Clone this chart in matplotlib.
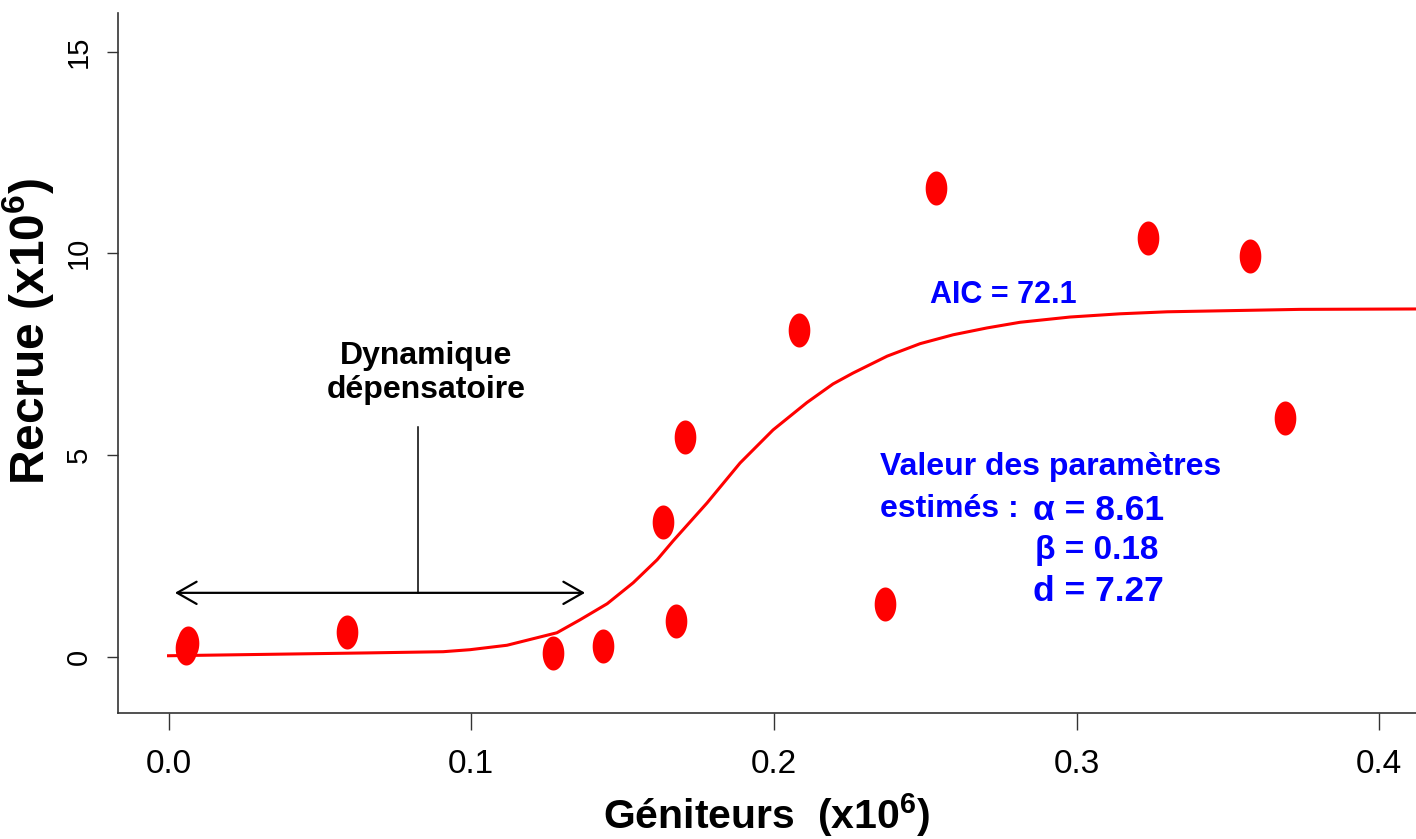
import numpy as np
import matplotlib
matplotlib.use('Agg')
import matplotlib.pyplot as plt

# spawners / recruits (x10^6)
geniteurs = [0.0063, 0.0058, 0.0590, 0.1271, 0.1434, 0.1635, 0.1677, 0.1705,
             0.2083, 0.2366, 0.2536, 0.3235, 0.3571, 0.3688]
recrues = [0.34, 0.22, 0.60, 0.08, 0.27, 3.33, 0.87, 5.44,
           8.10, 1.30, 11.61, 10.39, 9.93, 5.91]

# fitted depensatory curve
courbe_x = [0.0, 0.0656, 0.0907, 0.0996, 0.1118, 0.1283, 0.1359, 0.1449, 0.1535,
            0.1614, 0.1667, 0.1779, 0.1888, 0.1997, 0.2109, 0.2195, 0.2261, 0.2374,
            0.2483, 0.2592, 0.2704, 0.2813, 0.2978, 0.3143, 0.3299, 0.3517, 0.3738,
            0.4121]
courbe_y = [0.02, 0.09, 0.12, 0.17, 0.28, 0.59, 0.91, 1.31, 1.83,
            2.40, 2.87, 3.81, 4.80, 5.62, 6.30, 6.76, 7.03, 7.45,
            7.76, 7.98, 8.15, 8.29, 8.42, 8.50, 8.55, 8.58, 8.61,
            8.62]

xticks = [0.0, 0.1, 0.2, 0.3, 0.4]
yticks = [0, 5, 10, 15]

aic = '72.1'
alpha, beta, d = '8.61', '0.18', '7.27'

plt.rcParams['font.family'] = ['Liberation Sans', 'DejaVu Sans']
plt.rcParams['mathtext.fontset'] = 'custom'
plt.rcParams['mathtext.rm'] = 'Liberation Sans'
plt.rcParams['mathtext.bf'] = 'Liberation Sans:bold'

fig = plt.figure(figsize=(14.16, 8.39), dpi=100)
ax = fig.add_axes([118/1416, 1 - 713/839, 1 - 118/1416, (713 - 13)/839])

t = np.linspace(0, 2*np.pi, 60)
ellipse = np.column_stack([0.636*np.cos(t), np.sin(t)])

ax.plot(courbe_x, courbe_y, color='#ff0000', lw=2.2, zorder=2)
ax.plot(geniteurs, recrues, ls='none', marker=ellipse, markersize=24.5,
        markerfacecolor='#ff0000', markeredgewidth=0, zorder=3)

ax.set_xlim(-0.0167, 0.4121)
ax.set_ylim(-1.40, 15.96)

for s in ['top', 'right']:
    ax.spines[s].set_visible(False)
for s in ['left', 'bottom']:
    ax.spines[s].set_linewidth(1.2)
    ax.spines[s].set_color('#333333')

ax.set_xticks(xticks)
ax.set_xticklabels(['%.1f' % v for v in xticks], fontsize=24)
ax.set_yticks(yticks)
ax.set_yticklabels([str(v) for v in yticks], fontsize=21, rotation=90, va='center')
ax.tick_params(axis='x', length=12, width=1, color='#333333', pad=14)
ax.tick_params(axis='y', length=8, width=1, color='#333333', pad=10)

ax.set_xlabel(r'Géniteurs  (x10$^{\mathbf{6}}$)', fontsize=29.5, fontweight='bold',
              labelpad=8)
ax.set_ylabel(r'Recrue (x10$^{\mathbf{6}}$)', fontsize=34.5, fontweight='bold')
ax.yaxis.set_label_coords(-0.0478, 0.546)

# annotation of the depensatory zone
ax.text(0.0851, 7.03, 'Dynamique\ndépensatoire', ha='center', va='center',
        fontsize=23, fontweight='bold', linespacing=1.2)
ax.plot([0.0824, 0.0824], [1.58, 5.69], color='black', lw=1.1)
ax.annotate('', xy=(0.0021, 1.58), xytext=(0.1376, 1.58),
            arrowprops=dict(arrowstyle='<->,head_length=1.4,head_width=0.8',
                            color='black', lw=1.6, shrinkA=0, shrinkB=0))

blue = '#0000ff'
ax.text(0.2516, 8.77, 'AIC = ' + aic, color=blue, fontsize=22,
        fontweight='bold', va='baseline')
ax.text(0.2351, 4.50, 'Valeur des paramètres', color=blue, fontsize=23,
        fontweight='bold', va='baseline')
ax.text(0.2351, 3.46, 'estimés :', color=blue, fontsize=23,
        fontweight='bold', va='baseline')
ax.text(0.2856, 3.39, 'α = ' + alpha, color=blue, fontsize=25.5,
        fontweight='bold', va='baseline')
ax.text(0.2863, 2.42, 'β = ' + beta, color=blue, fontsize=24,
        fontweight='bold', va='baseline')
ax.text(0.2856, 1.38, 'd = ' + d, color=blue, fontsize=25.5,
        fontweight='bold', va='baseline')

plt.savefig('out.png', dpi=100)
